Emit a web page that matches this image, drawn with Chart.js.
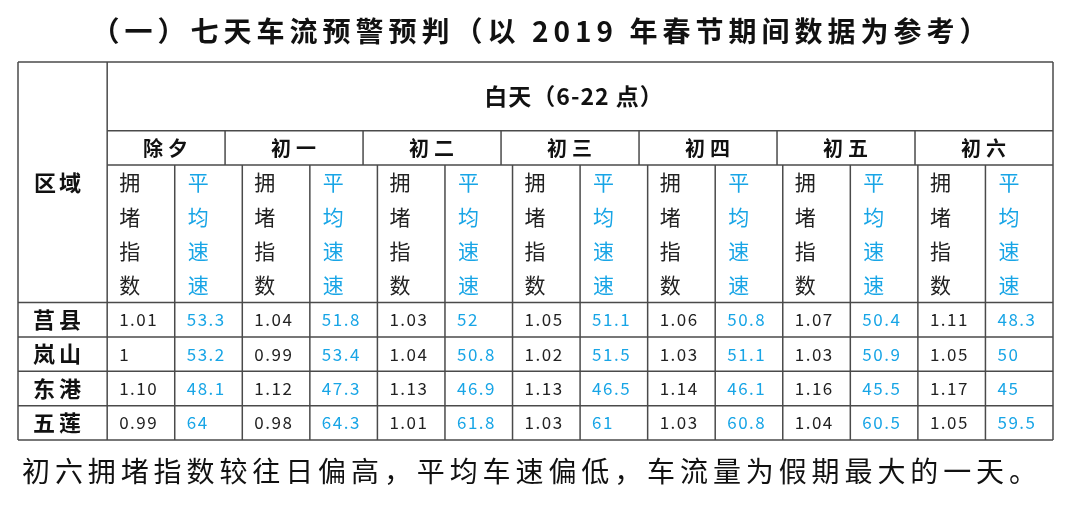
<!DOCTYPE html>
<html>
<head>
<meta charset="utf-8">
<script src="https://cdn.jsdelivr.net/npm/chart.js@4.4.1/dist/chart.umd.min.js"></script>
<style>
  html, body { margin: 0; padding: 0; background: #fff; }
  canvas { display: block; }
</style>
</head>
<body>
<canvas id="myChart" width="1080" height="506"></canvas>
<script>
const titleText = '（一）七天车流预警预判（以 2019 年春节期间数据为参考）';
const noteText = '初六拥堵指数较往日偏高，平均车速偏低，车流量为假期最大的一天。';
const periodLabel = '白天（6-22 点）';
const regionHeader = '区域';
const regions = ['莒县', '岚山', '东港', '五莲'];
const days = ['除夕', '初一', '初二', '初三', '初四', '初五', '初六'];
const indexHeader = ['拥', '堵', '指', '数'];
const speedHeader = ['平', '均', '速', '速'];

// 拥堵指数, one row per region, one value per day
const indexJuxian = ['1.01', '1.04', '1.03', '1.05', '1.06', '1.07', '1.11'];
const indexLanshan = ['1', '0.99', '1.04', '1.02', '1.03', '1.03', '1.05'];
const indexDonggang = ['1.10', '1.12', '1.13', '1.13', '1.14', '1.16', '1.17'];
const indexWulian = ['0.99', '0.98', '1.01', '1.03', '1.03', '1.04', '1.05'];

// 平均速度
const speedJuxian = ['53.3', '51.8', '52', '51.1', '50.8', '50.4', '48.3'];
const speedLanshan = ['53.2', '53.4', '50.8', '51.5', '51.1', '50.9', '50'];
const speedDonggang = ['48.1', '47.3', '46.9', '46.5', '46.1', '45.5', '45'];
const speedWulian = ['64', '64.3', '61.8', '61', '60.8', '60.5', '59.5'];

const indexRows = [indexJuxian, indexLanshan, indexDonggang, indexWulian];
const speedRows = [speedJuxian, speedLanshan, speedDonggang, speedWulian];

const BLUE = '#18a5e6';
const LINE = '#4a4a4a';
const FONT = '"Noto Sans CJK SC", "Noto Sans", sans-serif';

// grid units: region column sits left of 0, 14 sub-columns, 11 row units
const REGION_W = 1.32;
const FIRST_DAY_W = 1.745;
const SUB_COLS = days.length * 2;
const ROWS_TOTAL = 7 + regions.length;

function dayEdges() {
  const edges = [0, FIRST_DAY_W];
  const w = (SUB_COLS - FIRST_DAY_W) / (days.length - 1);
  for (let i = 1; i < days.length; i++) edges.push(FIRST_DAY_W + i * w);
  return edges;
}

function cellPoints(rows, offset) {
  const pts = [];
  rows.forEach((row, ri) => {
    row.forEach((v, di) => pts.push({ x: di * 2 + offset, y: 7.5 + ri, text: v }));
  });
  return pts;
}

function drawText(ctx, str, x, y, font, color, align, spacing) {
  ctx.save();
  ctx.font = font;
  ctx.fillStyle = color;
  ctx.textAlign = align;
  ctx.textBaseline = 'middle';
  ctx.letterSpacing = (spacing || 0) + 'px';
  ctx.fillText(str, x, y);
  ctx.restore();
}

function line(ctx, x1, y1, x2, y2) {
  ctx.beginPath();
  ctx.moveTo(x1, y1);
  ctx.lineTo(x2, y2);
  ctx.stroke();
}

const tablePlugin = {
  id: 'tablePlugin',
  afterDraw(chart) {
    const ctx = chart.ctx;
    const xs = chart.scales.x;
    const ys = chart.scales.y;
    const px = v => xs.getPixelForValue(v);
    const py = v => ys.getPixelForValue(v);
    const unit = px(1) - px(0);

    // grid
    ctx.save();
    ctx.strokeStyle = LINE;
    ctx.lineWidth = 1.5;
    [0, 7, 8, 9, 10, ROWS_TOTAL].forEach(r => line(ctx, px(-REGION_W), py(r), px(SUB_COLS), py(r)));
    [2, 3].forEach(r => line(ctx, px(0), py(r), px(SUB_COLS), py(r)));
    line(ctx, px(-REGION_W), py(0), px(-REGION_W), py(ROWS_TOTAL));
    line(ctx, px(0), py(0), px(0), py(ROWS_TOTAL));
    line(ctx, px(SUB_COLS), py(0), px(SUB_COLS), py(ROWS_TOTAL));
    for (let c = 1; c < SUB_COLS; c++) line(ctx, px(c), py(3), px(c), py(ROWS_TOTAL));
    const edges = dayEdges();
    for (let i = 1; i < edges.length - 1; i++) line(ctx, px(edges[i]), py(2), px(edges[i]), py(3));
    ctx.restore();

    // headers
    drawText(ctx, periodLabel, px(SUB_COLS / 2) - 6, py(1), 'bold 23px ' + FONT, '#111', 'center', 1);
    drawText(ctx, regionHeader, px(-REGION_W) + 16, py(3.5), 'bold 22px ' + FONT, '#111', 'left', 3);
    days.forEach((d, i) => {
      drawText(ctx, d, (px(edges[i]) + px(edges[i + 1])) / 2 + 2, py(2.5), 'bold 20px ' + FONT, '#111', 'center', 5);
      indexHeader.forEach((ch, k) => drawText(ctx, ch, px(i * 2) + 12, py(3.5 + k), '21px ' + FONT, '#222', 'left'));
      speedHeader.forEach((ch, k) => drawText(ctx, ch, px(i * 2 + 1) + 13, py(3.5 + k), '21px ' + FONT, BLUE, 'left'));
    });
    regions.forEach((r, i) => {
      drawText(ctx, r, px(-REGION_W) + 15, py(7.5 + i), 'bold 22px ' + FONT, '#111', 'left', 4);
    });

    // cell values, placed from the scatter elements
    chart.data.datasets.forEach((ds, di) => {
      const meta = chart.getDatasetMeta(di);
      meta.data.forEach((el, i) => {
        drawText(ctx, ds.data[i].text, el.x - unit / 2 + 12, el.y, '17px ' + FONT, ds.textColor, 'left', 1.5);
      });
    });

    // title and note
    drawText(ctx, titleText, chart.width / 2 + 2, 31, 'bold 28px ' + FONT, '#111', 'center', 5);
    drawText(ctx, noteText, 22, 471, '28px ' + FONT, '#111', 'left', 4.9);
  }
};

const ctx = document.getElementById('myChart').getContext('2d');
const myChart = new Chart(ctx, {
  type: 'scatter',
  data: {
    datasets: [
      { label: '拥堵指数', data: cellPoints(indexRows, 0.5), textColor: '#222', pointRadius: 0 },
      { label: '平均速速', data: cellPoints(speedRows, 1.5), textColor: BLUE, pointRadius: 0 }
    ]
  },
  options: {
    responsive: false,
    animation: false,
    events: [],
    layout: { padding: { left: 18, right: 27, top: 62, bottom: 66 } },
    plugins: { legend: { display: false }, tooltip: { enabled: false } },
    scales: {
      x: { type: 'linear', min: -REGION_W, max: SUB_COLS, display: false },
      y: { type: 'linear', min: 0, max: ROWS_TOTAL, reverse: true, display: false }
    }
  },
  plugins: [tablePlugin]
});
</script>
</body>
</html>
